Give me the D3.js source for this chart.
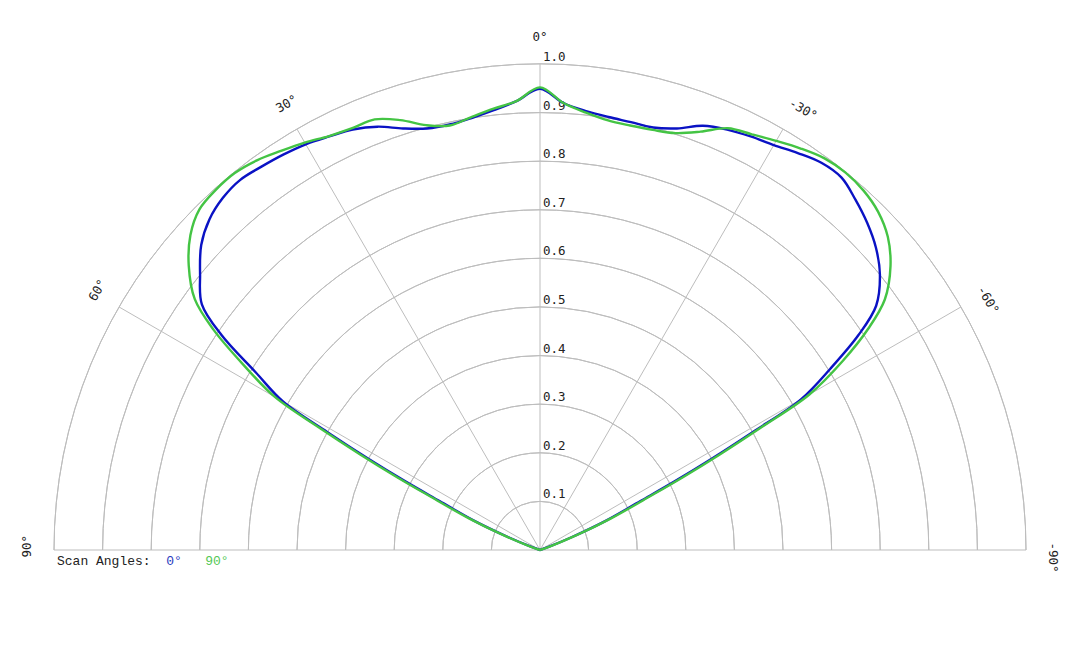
<!DOCTYPE html>
<html>
<head>
<meta charset="utf-8">
<script src="https://cdn.jsdelivr.net/npm/d3@7"></script>
<style>
  html, body { margin: 0; padding: 0; background: #fff; }
  svg { display: block; }
</style>
</head>
<body>
<svg id="chart" width="1080" height="648"></svg>
<script>
// Angles in degrees (positive = left of vertical, negative = right)
const anglesDeg = [-90,-80,-70,-68,-66,-64,-63,-62,-61,-60,-58,-56,-54,-51,-48,-45,-42,-39,-36,-33,-30,-27,-24,-21,-18,-15,-12,-9,-6,-3,
  0,
  3,6,9,12,15,18,21,24,27,30,33,36,39,42,45,48,51,54,56,58,60,61,62,63,64,66,68,70,80,90];

// Scan angle 0° (blue)
const scan0 = [0,0,0.02,0.07,0.15,0.23,0.31,0.40,0.50,0.62,0.705,0.79,0.855,0.900,0.930,0.952,0.970,0.986,0.985,0.974,0.962,0.955,0.947,0.935,0.912,0.900,0.900,0.902,0.908,0.921,
  0.949,
  0.925,0.910,0.900,0.895,0.898,0.912,0.933,0.947,0.955,0.964,0.970,0.975,0.980,0.975,0.962,0.938,0.900,0.860,0.79,0.69,0.61,0.50,0.40,0.31,0.23,0.15,0.07,0.02,0,0];

// Scan angle 90° (green)
const scan90 = [0,0,0.025,0.08,0.16,0.25,0.33,0.42,0.52,0.64,0.735,0.815,0.877,0.928,0.963,0.984,0.995,0.999,0.996,0.985,0.972,0.960,0.950,0.922,0.902,0.895,0.893,0.895,0.905,0.921,
  0.952,
  0.925,0.913,0.902,0.893,0.905,0.930,0.949,0.950,0.956,0.968,0.979,0.991,0.998,0.997,0.991,0.968,0.930,0.878,0.81,0.72,0.63,0.52,0.42,0.33,0.25,0.16,0.08,0.025,0,0];

const radialTicks = [0.1,0.2,0.3,0.4,0.5,0.6,0.7,0.8,0.9,1.0];
const spokeAngles = [-60,-30,0,30,60];
const angleLabels = [90,60,30,0,-30,-60,-90];
const seriesNames = ["0°","90°"];
const seriesColors = ["#0a12c4","#44c444"];

const svg = d3.select("#chart");
const cx = 540, cy = 550, R = 486;
const r = d3.scaleLinear().domain([0,1]).range([0,R]);
const toRad = d => -d * Math.PI / 180;

const g = svg.append("g").attr("transform", `translate(${cx},${cy})`);

// grid arcs
const arc = d3.arc().startAngle(-Math.PI/2).endAngle(Math.PI/2);
g.selectAll("path.grid").data(radialTicks).join("path")
  .attr("class","grid")
  .attr("d", t => arc({innerRadius:r(t), outerRadius:r(t)}))
  .attr("fill","none").attr("stroke","#bdbdbd").attr("stroke-width",1);

// baseline
g.append("line").attr("x1",-r(1)).attr("x2",r(1)).attr("y1",0).attr("y2",0)
  .attr("stroke","#bdbdbd").attr("stroke-width",1);

// spokes
g.selectAll("line.spoke").data(spokeAngles).join("line")
  .attr("class","spoke")
  .attr("x1",0).attr("y1",0)
  .attr("x2", a => r(1)*Math.sin(toRad(a)))
  .attr("y2", a => -r(1)*Math.cos(toRad(a)))
  .attr("stroke","#bdbdbd").attr("stroke-width",1);

// radial tick labels
g.selectAll("text.rt").data(radialTicks).join("text")
  .attr("class","rt")
  .attr("x",3).attr("y", t => -r(t) - 3)
  .attr("font-family","DejaVu Sans Mono, monospace").attr("font-size",12.5)
  .attr("fill","#222")
  .text(t => t.toFixed(1));

// angle labels
const labR = r(1) + 23;
g.selectAll("text.al").data(angleLabels).join("text")
  .attr("class","al")
  .attr("transform", a => {
    const x = labR*Math.sin(toRad(a)), y = -labR*Math.cos(toRad(a));
    return `translate(${x},${y}) rotate(${-a})`;
  })
  .attr("text-anchor","start")
  .attr("dx", -7.5)
  .attr("font-family","DejaVu Sans Mono, monospace").attr("font-size",12.5)
  .attr("fill","#222")
  .text(a => a + "°");

// curves
const line = d3.lineRadial()
  .angle(d => toRad(d[0]))
  .radius(d => r(d[1]))
  .curve(d3.curveCatmullRom);

[scan0, scan90].forEach((vals, i) => {
  const data = anglesDeg.map((a, k) => [a, vals[k]]);
  g.append("path").attr("d", line(data))
    .attr("fill","none").attr("stroke", seriesColors[i]).attr("stroke-width",2.4)
    .attr("stroke-linejoin","round");
});

// legend
const leg = svg.append("text").attr("x",57).attr("y",565)
  .attr("font-family","Liberation Mono, Courier New, monospace").attr("font-size",13)
  .style("white-space","pre");
leg.append("tspan").attr("fill","#222").text("Scan Angles:  ");
seriesNames.forEach((n, i) => {
  leg.append("tspan").attr("fill", i === 0 ? "#2a3cc0" : "#55c855").text(n + (i === 0 ? "   " : ""));
});
</script>
</body>
</html>
